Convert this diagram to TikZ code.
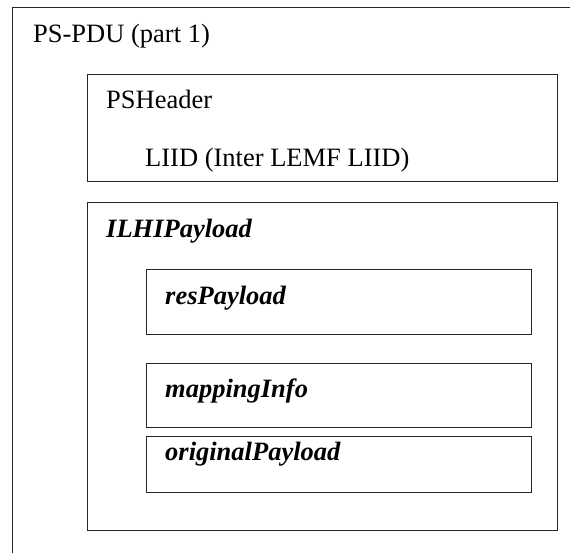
\documentclass[tikz,border=0pt]{standalone}
\usepackage{fontspec}
\setmainfont{Liberation Serif}
\begin{document}
\begin{tikzpicture}[x=1pt,y=-1pt,
  box/.style={draw=black!85, line width=1pt, rectangle, inner sep=0pt, outer sep=0pt, anchor=north west},
  lbl/.style={anchor=base west, inner sep=0pt, font=\fontsize{26.5}{30}\selectfont},
  ilbl/.style={lbl, font=\fontsize{26.5}{30}\selectfont\bfseries\itshape}]
\useasboundingbox (0,0) rectangle (570,553);
\clip (0,0) rectangle (570,553);
\fill[white] (0,0) rectangle (570,553);
\node[box, minimum width=580pt, minimum height=570pt] (outer) at (12,8) {};
\node[box, minimum width=470pt, minimum height=107pt] (hdr) at (87,75) {};
\node[box, minimum width=470pt, minimum height=327pt] (ilhi) at (87,203) {};
\node[box, minimum width=385pt, minimum height=64pt] (res) at (146,270) {};
\node[box, minimum width=385pt, minimum height=64pt] (map) at (146,363) {};
\node[box, minimum width=385pt, minimum height=56pt] (orig) at (146,436) {};
\node[lbl] (tpdu) at (33,43) {PS-PDU (part 1)};
\node[lbl] (thdr) at (106,109) {PSHeader};
\node[lbl] (tliid) at (145,167) {LIID (Inter LEMF LIID)};
\node[ilbl] (tilhi) at (106,238) {ILHIPayload};
\node[ilbl] (tres) at (165,304) {resPayload};
\node[ilbl] (tmap) at (165,397) {mappingInfo};
\node[ilbl] (torig) at (165,460) {originalPayload};
\end{tikzpicture}
\end{document}
